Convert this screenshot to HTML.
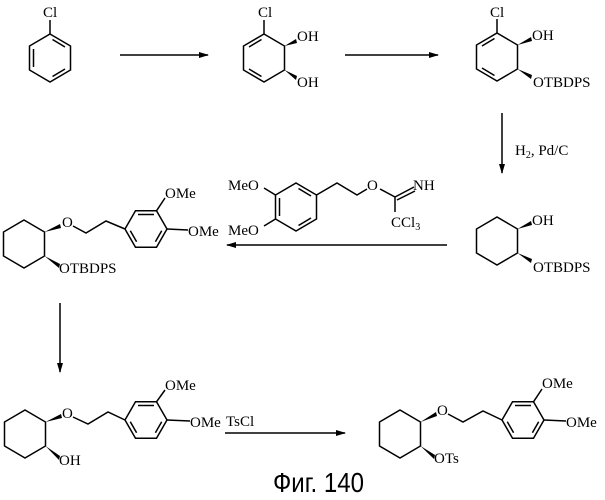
<!DOCTYPE html>
<html><head><meta charset="utf-8"><style>
html,body{margin:0;padding:0;background:#fff}
svg{display:block}
text{font-family:"Liberation Serif",serif;font-size:15px;fill:#000}
</style></head><body>
<svg width="605" height="500" viewBox="0 0 605 500" xmlns="http://www.w3.org/2000/svg">
<defs>
<polygon id="hp" points="0,-24 20.5,-12 20.5,12 0,24 -20.5,12 -20.5,-12" fill="none" stroke="#000" stroke-width="1.5"/>
<polygon id="hf" points="-21,0 -10.5,-18.2 10.5,-18.2 21,0 10.5,18.2 -10.5,18.2" fill="none" stroke="#000" stroke-width="1.5"/>
<g id="arf">
<use href="#hf"/>
<line x1="-8" y1="-14.5" x2="8" y2="-14.5" stroke="#000" stroke-width="1.5"/>
<line x1="15.7" y1="1.8" x2="9.4" y2="12.7" stroke="#000" stroke-width="1.5"/>
<line x1="-15.7" y1="1.8" x2="-9.4" y2="12.7" stroke="#000" stroke-width="1.5"/>
</g>
<marker id="ah" markerWidth="10" markerHeight="6" refX="9" refY="3" orient="auto" markerUnits="userSpaceOnUse"><path d="M0,0 L10,3 L0,6 Z" fill="#000"/></marker>
</defs>
<g stroke="#000" stroke-width="1.5" fill="none">
<g transform="translate(50,58)"><use href="#hp"/>
<line x1="2.5" y1="-18.5" x2="15" y2="-11"/><line x1="15" y1="11" x2="2.5" y2="18.5"/><line x1="-16.5" y1="-9" x2="-16.5" y2="9"/>
<line x1="0" y1="-24" x2="0" y2="-38"/></g>
<line x1="120" y1="55" x2="208" y2="55" marker-end="url(#ah)"/>
<g transform="translate(264,58)"><use href="#hp"/>
<line x1="-15" y1="-11" x2="-2.5" y2="-18.5"/><line x1="-2.5" y1="18.5" x2="-15" y2="11"/>
<line x1="0" y1="-24" x2="0" y2="-38"/></g>
<line x1="345" y1="55" x2="438" y2="55" marker-end="url(#ah)"/>
<g transform="translate(497,57)"><use href="#hp"/>
<line x1="-15" y1="-11" x2="-2.5" y2="-18.5"/><line x1="-2.5" y1="18.5" x2="-15" y2="11"/>
<line x1="0" y1="-24" x2="0" y2="-38"/></g>
<line x1="502" y1="113" x2="502" y2="173" marker-end="url(#ah)"/>
<g transform="translate(497,241)"><use href="#hp"/></g>
<g transform="translate(296,207)"><use href="#hp"/>
<line x1="-16.5" y1="-9" x2="-16.5" y2="9"/><line x1="2.5" y1="-18.5" x2="15" y2="-11"/><line x1="15" y1="11" x2="2.5" y2="18.5"/></g>
<line x1="275.5" y1="195" x2="264" y2="188"/>
<line x1="275.5" y1="219" x2="264" y2="226"/>
<polyline points="316.5,195 337,183 357,195 367,189"/>
<line x1="380" y1="189" x2="395" y2="197"/>
<line x1="395" y1="197" x2="395" y2="212"/>
<line x1="395" y1="197" x2="414" y2="187"/>
<line x1="397" y1="200" x2="415" y2="191"/>
<line x1="447" y1="245" x2="227" y2="245" marker-end="url(#ah)"/>
<g transform="translate(24,244)"><use href="#hp"/></g>
<polyline points="73,226 86,233 106,221 125,229"/>
<g transform="translate(146,229)"><use href="#arf"/></g>
<line x1="156.5" y1="210.8" x2="165" y2="198"/>
<line x1="167" y1="229" x2="188" y2="230"/>
<line x1="60" y1="303" x2="60" y2="372" marker-end="url(#ah)"/>
<g transform="translate(25,434)"><use href="#hp"/></g>
<polyline points="73,417 88,424 108,412 125,420"/>
<g transform="translate(146,420)"><use href="#arf"/></g>
<line x1="156.5" y1="401.8" x2="165" y2="390"/>
<line x1="167" y1="420" x2="190" y2="421"/>
<line x1="225" y1="433" x2="345" y2="433" marker-end="url(#ah)"/>
<g transform="translate(400,434)"><use href="#hp"/></g>
<polyline points="448,414 463,422 483,411 502,420"/>
<g transform="translate(523,420)"><use href="#arf"/></g>
<line x1="533.5" y1="401.8" x2="542" y2="389"/>
<line x1="544" y1="420" x2="566" y2="421"/>
</g>
<g fill="#000">
<polygon points="284.5,46 296,39 297,43"/>
<polygon points="284.5,70 296,80 297,76"/>
<polygon points="517.5,45 531,37 532,41"/>
<polygon points="517.5,69 531,79 532,75"/>
<polygon points="517.5,229 531,221 532,225"/>
<polygon points="517.5,253 531,263 532,259"/>
<polygon points="44.5,232 60,224 61,228"/>
<polygon points="44.5,256 60,264 59,268"/>
<polygon points="45.5,422 61,414 62,418"/>
<polygon points="45.5,446 60,456 59,460"/>
<polygon points="420.5,422 436,412 437,416"/>
<polygon points="420.5,446 435,455 434,459"/>
</g>
<text x="43" y="17">Cl</text>
<text x="258" y="17">Cl</text>
<text x="297" y="41">OH</text>
<text x="297" y="87">OH</text>
<text x="490" y="17">Cl</text>
<text x="532" y="40">OH</text>
<text x="533" y="87">OTBDPS</text>
<text x="515" y="155">H<tspan style="font-size:10px" dy="3">2</tspan><tspan dy="-3">, Pd/C</tspan></text>
<text x="532" y="225">OH</text>
<text x="533" y="272">OTBDPS</text>
<text x="228" y="190">MeO</text>
<text x="228" y="235">MeO</text>
<text x="367" y="190">O</text>
<text x="413" y="190">NH</text>
<text x="391" y="227">CCl<tspan style="font-size:10px" dy="3">3</tspan></text>
<text x="62" y="227">O</text>
<text x="165" y="198">OMe</text>
<text x="188" y="236">OMe</text>
<text x="59" y="273">OTBDPS</text>
<text x="62" y="418">O</text>
<text x="165" y="390">OMe</text>
<text x="190" y="427">OMe</text>
<text x="59" y="465">OH</text>
<text x="226" y="426">TsCl</text>
<text x="437" y="415">O</text>
<text x="542" y="388">OMe</text>
<text x="566" y="427">OMe</text>
<text x="434" y="463">OTs</text>
<text x="273" y="492" textLength="91" lengthAdjust="spacingAndGlyphs" style="font-family:'Liberation Sans',sans-serif;font-size:28px">Фиг. 140</text>
</svg>
</body></html>
